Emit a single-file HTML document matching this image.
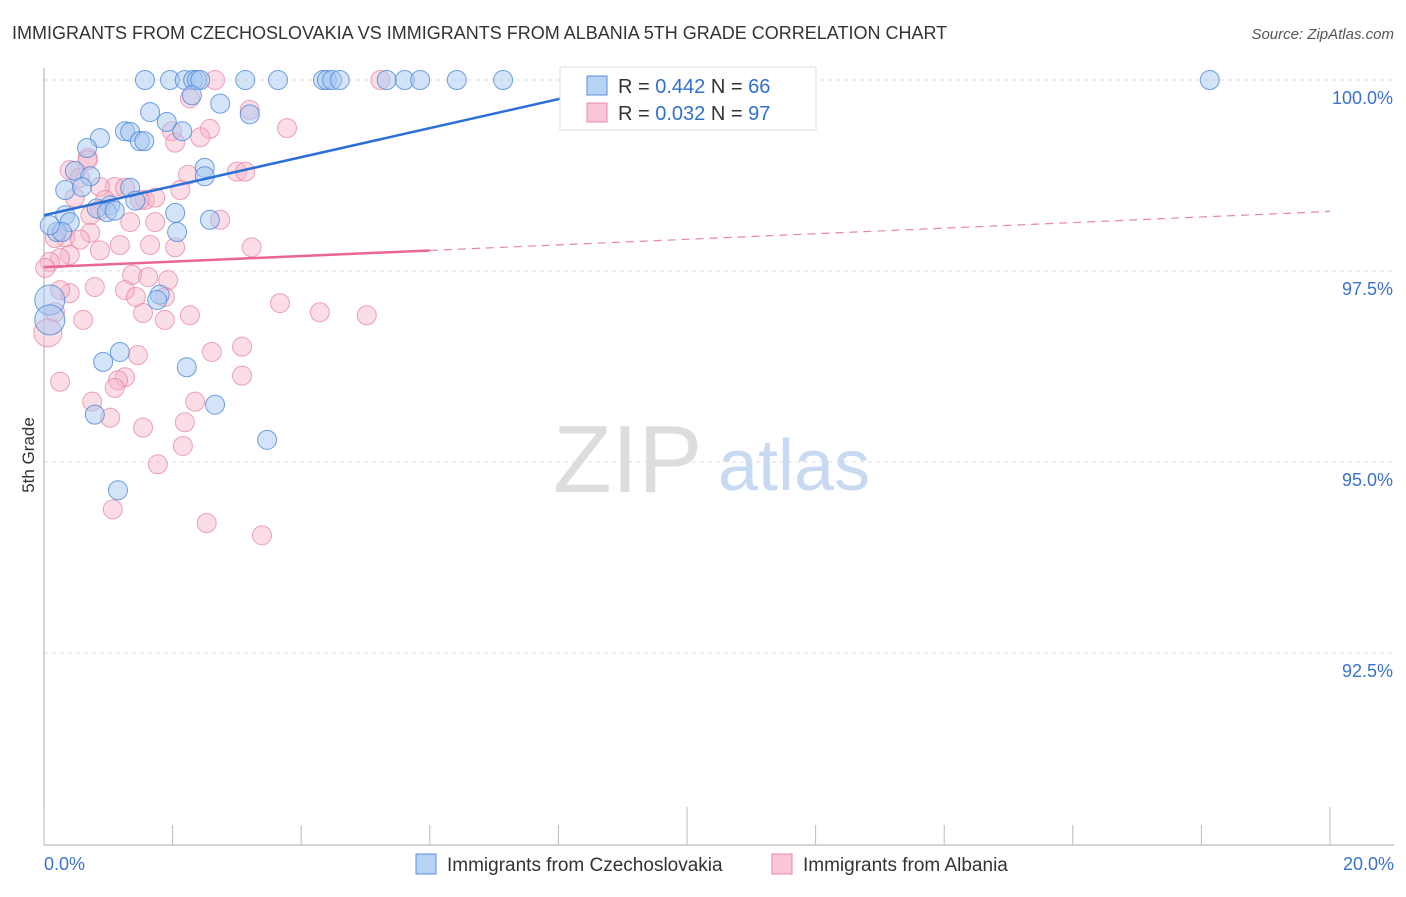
<!DOCTYPE html>
<html><head><meta charset="utf-8"><style>
body{margin:0;background:#fff;font-family:"Liberation Sans",sans-serif}
svg text{font-family:"Liberation Sans",sans-serif}
</style></head><body>
<svg id="c" width="1406" height="892">
<text x="12" y="39" font-size="18" fill="#333">IMMIGRANTS FROM CZECHOSLOVAKIA VS IMMIGRANTS FROM ALBANIA 5TH GRADE CORRELATION CHART</text>
<text x="1394" y="39" font-size="15" fill="#555" font-style="italic" text-anchor="end">Source: ZipAtlas.com</text>
<text x="34" y="455" font-size="17" fill="#333" transform="rotate(-90 34 455)" text-anchor="middle">5th Grade</text>
<g><text x="553" y="492" font-size="96" fill="#ddd" font-family="Liberation Serif">ZIP</text><text x="718" y="490" font-size="72" fill="#c8daf2">atlas</text></g>
<g id="grid"></g><g id="pts"></g><g id="lines"></g>
<g>
<rect x="560" y="67" width="256" height="63" fill="#fff" stroke="#ddd"/>
<rect x="587" y="76" width="20" height="19" fill="#b6d2f5" stroke="#5a8fd8"/>
<rect x="587" y="103" width="20" height="19" fill="#fbc6d5" stroke="#e88aa8"/>
<text x="618" y="93" font-size="20" fill="#333">R = <tspan fill="#2f6fd0">0.442</tspan>   N = <tspan fill="#2f6fd0">66</tspan></text>
<text x="618" y="120" font-size="20" fill="#333">R = <tspan fill="#2f6fd0">0.032</tspan>   N = <tspan fill="#2f6fd0">97</tspan></text>
</g>
<g>
<rect x="416" y="854" width="20" height="20" fill="#b6d2f5" stroke="#5a8fd8"/>
<text x="447" y="871" font-size="19" fill="#333">Immigrants from Czechoslovakia</text>
<rect x="772" y="854" width="20" height="20" fill="#fbc6d5" stroke="#e88aa8"/>
<text x="803" y="871" font-size="19" fill="#333">Immigrants from Albania</text>
</g>
</svg>
<script>
const blueX=[1.57,1.96,2.19,2.32,2.38,2.43,3.13,3.64,4.34,4.40,4.48,4.60,5.33,5.61,5.85,6.42,7.14,8.18,9.53,18.13,2.30,1.65,2.74,3.20,1.91,2.15,1.26,1.34,1.49,1.56,0.87,0.67,2.50,2.50,0.48,0.72,1.34,0.33,0.59,1.03,1.42,0.82,0.98,1.10,0.33,2.04,2.58,0.40,0.20,0.28,2.07,0.09,1.80,1.76,1.18,0.92,2.22,0.79,2.66,3.47,1.15,0.09,0.09];
const blueY=[100,100,100,100,100,100,100,100,100,100,100,100,100,100,100,100,100,100,100,100,99.80,99.58,99.69,99.55,99.45,99.33,99.33,99.32,99.20,99.20,99.24,99.11,98.85,98.74,98.81,98.74,98.59,98.56,98.60,98.36,98.42,98.32,98.27,98.29,98.23,98.26,98.17,98.14,98.01,98.01,98.01,98.10,97.19,97.12,96.44,96.31,96.24,95.62,95.75,95.29,94.63,97.12,96.86];
const pinkX=[2.66,5.23,8.18,3.20,2.27,3.78,2.58,1.99,2.04,2.43,0.68,0.40,0.56,0.68,3.00,3.13,2.24,1.10,1.26,0.87,1.57,1.73,2.12,0.48,0.95,1.49,0.87,0.72,2.74,1.34,1.73,0.72,0.33,0.17,3.23,2.04,1.65,1.18,0.87,0.56,0.40,0.25,0.09,0.02,1.37,1.62,1.93,1.26,0.79,0.40,1.43,1.88,0.25,3.67,4.29,5.02,2.27,1.54,0.61,1.88,0.17,0.06,3.08,2.61,1.46,1.26,1.15,3.08,0.25,0.75,2.35,1.10,1.03,2.19,1.54,2.16,1.77,1.07,2.53,3.39];
const pinkY=[100,100,100,99.61,99.76,99.37,99.36,99.33,99.18,99.25,98.98,98.82,98.72,98.95,98.80,98.80,98.76,98.60,98.59,98.60,98.43,98.46,98.56,98.46,98.43,98.43,98.30,98.23,98.17,98.14,98.14,98.00,97.94,97.93,97.81,97.81,97.84,97.84,97.77,97.91,97.71,97.67,97.62,97.54,97.45,97.42,97.38,97.25,97.29,97.21,97.16,97.16,97.25,97.08,96.96,96.92,96.92,96.95,96.86,96.86,96.96,96.69,96.51,96.44,96.40,96.11,96.07,96.13,96.05,95.79,95.79,95.97,95.58,95.52,95.45,95.21,94.97,94.38,94.20,94.04];
const yTicks=[100,97.5,95,92.5];
const yTickLabels=["100.0%","97.5%","95.0%","92.5%"];
const blueTrend=[98.23,0.19]; const pinkTrend=[97.55,0.0365];
const sx=v=>44+v*64.3, sy=v=>80+(100-v)*76.4;
const NS="http://www.w3.org/2000/svg";
function mk(t,a,p){const e=document.createElementNS(NS,t);for(const k in a)e.setAttribute(k,a[k]);p.appendChild(e);return e;}
const g=document.getElementById('grid');
yTicks.forEach((t,i)=>{const l=mk('line',{x1:44,x2:1394,y1:sy(t),y2:sy(t),stroke:'#ddd','stroke-dasharray':'4,4'},g);

const tx=mk('text',{x:1393,y:sy(t)+24,'font-size':18,fill:'#3a72d0','text-anchor':'end'},g);tx.textContent=yTickLabels[i];
});
const ax=mk('line',{x1:44,x2:44,y1:68,y2:845,stroke:'#aaa'},g);
const bx=mk('line',{x1:44,x2:1394,y1:845,y2:845,stroke:'#aaa'},g);
for(let i=0;i<=10;i++){const x=sx(i*2);const tk=mk('line',{x1:x,x2:x,y1:(i%5==0)?807:825,y2:845,stroke:'#bbb'},g);
}
[["0.0%",44,'start'],["20.0%",1394,'end']].forEach(a=>{const t=mk('text',{x:a[1],y:870,'font-size':18,fill:'#3a72d0','text-anchor':a[2]},g);t.textContent=a[0];
});
const p=document.getElementById('pts');
pinkX.forEach((x,i)=>{const c=mk('circle',{cx:sx(x),cy:sy(pinkY[i]),r:(x<0.1&&pinkY[i]<96.8)?14:9.5,fill:'#f7b3c7','fill-opacity':0.45,stroke:'#e67d9f','stroke-opacity':0.7},p);
});
blueX.forEach((x,i)=>{const c=mk('circle',{cx:sx(x),cy:sy(blueY[i]),r:(x<0.1&&blueY[i]<97.5)?15:9.5,fill:'#a8c8f2','fill-opacity':0.5,stroke:'#4d88d8','stroke-opacity':0.8},p);
});
const L=document.getElementById('lines');
const bEnd=(100-blueTrend[0])/blueTrend[1];
const b=mk('line',{x1:sx(0),y1:sy(blueTrend[0]),x2:sx(bEnd),y2:sy(100),stroke:'#2a6fd6','stroke-width':2.5},L);

const pl=mk('line',{x1:sx(0),y1:sy(pinkTrend[0]),x2:sx(6),y2:sy(pinkTrend[0]+6*pinkTrend[1]),stroke:'#e8668f','stroke-width':2.5},L);

const pd=mk('line',{x1:sx(6),y1:sy(pinkTrend[0]+6*pinkTrend[1]),x2:sx(20),y2:sy(pinkTrend[0]+20*pinkTrend[1]),stroke:'#e8889f','stroke-width':1.2,'stroke-dasharray':'8,6'},L);

</script>
</body></html>
